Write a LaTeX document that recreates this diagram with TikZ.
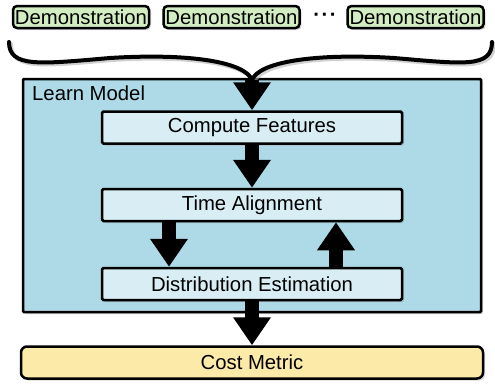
\documentclass[tikz,border=0pt]{standalone}
\usepackage{fontspec}
\setmainfont{Liberation Sans}
\usetikzlibrary{arrows.meta,shadows}
\definecolor{demogreen}{HTML}{D3EDC2}
\definecolor{modelblue}{HTML}{ADDAE6}
\definecolor{stepblue}{HTML}{D8EEF4}
\definecolor{costyellow}{HTML}{FCEAA8}
\tikzset{
 lbl/.style={font=\fontsize{20.3}{22}\selectfont},
 softshadow/.style={drop shadow={shadow xshift=2pt,shadow yshift=-2pt,opacity=.3}},
 demo/.style={lbl,draw,line width=2.5pt,rounded corners=4pt,fill=demogreen,minimum width=136pt,minimum height=22pt,inner sep=0pt,softshadow},
 stepbox/.style={lbl,draw,line width=2.5pt,rounded corners=1.5pt,fill=stepblue,minimum width=300pt,minimum height=32pt,inner sep=0pt,softshadow},
 modelbox/.style={draw,line width=2.5pt,rounded corners=1pt,fill=modelblue,minimum width=458pt,minimum height=233pt,softshadow},
 costbox/.style={lbl,draw,line width=2.5pt,rounded corners=6pt,fill=costyellow,minimum width=462pt,minimum height=32pt,inner sep=0pt,softshadow},
 fatarrow/.style={line width=14pt,-{Triangle[width=36pt,length=28pt]}}
}
\begin{document}
\begin{tikzpicture}[x=1pt,y=-1pt]
\useasboundingbox(0,0)rectangle(495,388);
\node[modelbox](model)at(252,195.5){};
\node[lbl,anchor=north west,inner sep=0pt](modeltitle)at(32,86){Learn Model};
\node[stepbox](features)at(252,127.5){Compute Features};
\node[stepbox](align)at(252,205){Time Alignment};
\node[stepbox](dist)at(252,284){Distribution Estimation};
\node[costbox](cost)at(252,362.5){Cost Metric};
\node[demo](demoa)at(81,17){Demonstration};
\node[demo](demob)at(231.5,17){Demonstration};
\node[lbl](dots)at(325,17){\bfseries\char"B7\kern1.5pt\char"B7\kern1.5pt\char"B7};
\node[demo](democ)at(415.5,17){Demonstration};
% brace gathering the demonstrations
\coordinate(bracetip)at(252,80);
\draw[line width=4pt,line cap=round,black!30,opacity=.6,shift={(2,2)}](9,42)..controls(9,68)and(40,64)..(110,58)..controls(190,53)and(245,62)..(252,80)..controls(259,62)and(314,53)..(394,58)..controls(464,64)and(492,68)..(492,42);
\draw[line width=4pt,line cap=round](9,42)..controls(9,68)and(40,64)..(110,58)..controls(190,53)and(245,62)..(bracetip)..controls(259,62)and(314,53)..(394,58)..controls(464,64)and(492,68)..(492,42);
\draw[fatarrow](bracetip)--(features.north);
\draw[fatarrow](features)--(align);
\draw[fatarrow]([xshift=-83pt]align.south)--([xshift=-83pt]dist.north);
\draw[fatarrow]([xshift=84pt]dist.north)--([xshift=84pt]align.south);
\draw[fatarrow](dist)--(cost);
\end{tikzpicture}
\end{document}
